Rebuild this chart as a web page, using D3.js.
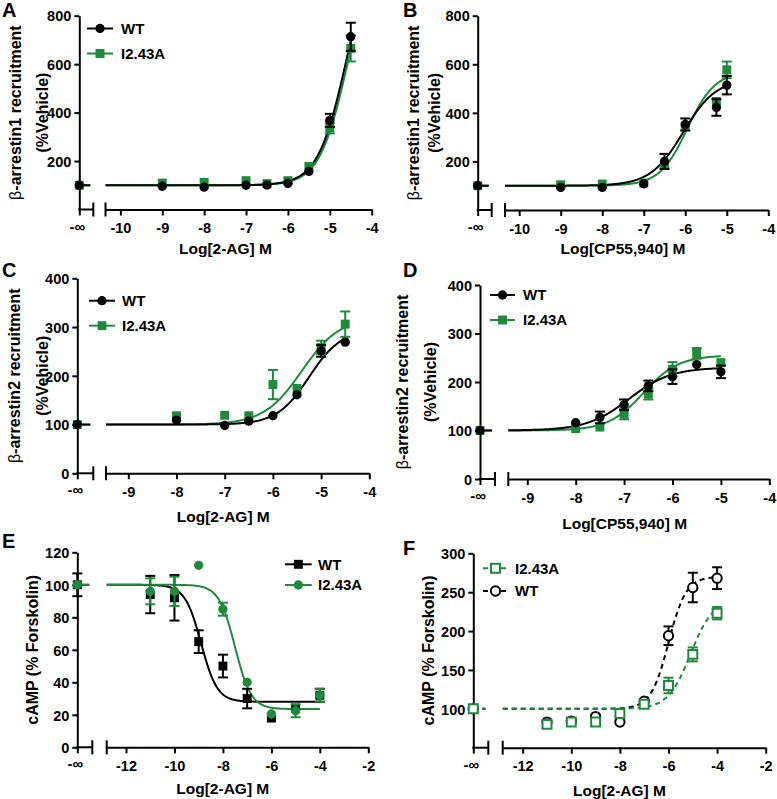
<!DOCTYPE html>
<html><head><meta charset="utf-8">
<script src="https://cdn.jsdelivr.net/npm/d3@7"></script>
<style>
body{margin:0;background:#fff}
text{font-family:"Liberation Sans",Arial,sans-serif;font-weight:bold;fill:#000}
</style>
</head><body>
<svg id="c" width="777" height="799" xmlns="http://www.w3.org/2000/svg"></svg>
<script>
const BLACK = "#000000", GREEN = "#1f8a3c";

// ---------- DATA ----------
// Panel A: beta-arrestin1, 2-AG
const A_conc = [-9, -8, -7, -6.5, -6, -5.5, -5, -4.5];
const A_WT = [96, 92, 100, 101, 108, 157, 368, 713];
const A_WT_sem = [3, 3, 3, 3, 3, 5, 27, 58];
const A_MUT = [109, 112, 119, 107, 119, 178, 336, 665];
const A_MUT_sem = [3, 3, 3, 3, 3, 5, 22, 54];
const A_fitWT = [100, 1140, -4.6, 1.27];
const A_fitMUT = [100, 1100, -4.58, 1.3];

// Panel B: beta-arrestin1, CP55,940
const B_conc = [-9, -8, -7, -6.5, -6, -5.25, -5];
const B_WT = [93, 93, 108, 200, 352, 422, 514];
const B_WT_sem = [3, 3, 3, 31, 25, 34, 38];
const B_MUT = [104, 107, 111, 186, 344, 447, 577];
const B_MUT_sem = [3, 3, 3, 20, 15, 19, 34];
const B_fitWT = [100, 540, -6.05, 1.1];
const B_fitMUT = [100, 570, -5.95, 1.3];

// Panel C: beta-arrestin2, 2-AG
const C_conc = [-8, -7, -6.5, -6, -5.5, -5, -4.5];
const C_WT = [109, 98, 107, 118, 161, 251, 269];
const C_WT_sem = [3, 3, 3, 10, 7, 12, 10];
const C_MUT = [118, 119, 118, 182, 174, 258, 306];
const C_MUT_sem = [3, 3, 3, 30, 10, 14, 26];
const C_fitWT = [100, 295, -5.25, 1.3];
const C_fitMUT = [100, 320, -5.4, 1.1];

// Panel D: beta-arrestin2, CP55,940
const D_conc = [-8, -7.5, -7, -6.5, -6, -5.5, -5];
const D_WT = [116, 127, 153, 192, 211, 236, 221];
const D_WT_sem = [10, 12, 11, 11, 15, 8, 13];
const D_MUT = [104, 107, 134, 175, 226, 259, 240];
const D_MUT_sem = [6, 5, 11, 11, 15, 11, 10];
const D_fitWT = [100, 230, -6.9, 1.0];
const D_fitMUT = [100, 255, -6.6, 1.2];

// Panel E: cAMP, 2-AG (inhibition)
const E_conc = [-11, -10, -9, -8, -7, -6, -5, -4];
const E_WT = [94, 92, 65, 50, 30, 18, 24, 32];
const E_WT_sem = [11.5, 14, 7, 7, 6, 1, 2, 4];
const E_MUT = [96, 96, 112, 85, 40, 20.5, 22.5, 32];
const E_MUT_sem = [8, 9, 3, 4, 3, 1, 4, 4];
const E_fitWT = [28, 100, -8.9, 1.3];
const E_fitMUT = [23.5, 100, -7.5, 1.3];

// Panel F: cAMP, 2-AG (stimulation)
const F_conc = [-11, -10, -9, -8, -7, -6, -5, -4];
const F_WT = [83, 84, 90, 83, 110, 194, 256, 268];
const F_WT_sem = [3, 3, 3, 5, 5, 12, 19, 14];
const F_MUT = [80, 83, 83, 94, 106, 130, 170, 223];
const F_MUT_sem = [3, 3, 3, 3, 5, 10, 9, 8];
const F_fitWT = [100, 270, -6.0, 1.2];
const F_fitMUT = [100, 240, -5.1, 0.95];

const vehicle = 100;
const seriesNames = ["WT", "I2.43A"];
const tickA = [-10, -9, -8, -7, -6, -5, -4];
const tickC = [-9, -8, -7, -6, -5, -4];
const tickE = [-12, -10, -8, -6, -4, -2];
const yTicksA = [200, 400, 600, 800];
const yTicksC = [0, 100, 200, 300, 400];
const yTicksE = [0, 20, 40, 60, 80, 100, 120];
const yTicksF = [100, 150, 200, 250, 300];

// ---------- DRAWING ----------
const svg = d3.select("#c");

function hill(p, x, dec) {
  const [b, t, c, h] = p;
  return dec ? b + (t - b) / (1 + Math.pow(10, (x - c) * h))
             : b + (t - b) / (1 + Math.pow(10, (c - x) * h));
}

function symbolPath(shape) {
  return d3.symbol().type(shape === "square" ? d3.symbolSquare : d3.symbolCircle)
    .size(shape === "square" ? 80 : 68)();
}

function drawMarker(g, cx, cy, s) {
  g.append("path").attr("d", symbolPath(s.shape))
    .attr("transform", `translate(${cx},${cy})`)
    .attr("fill", s.open ? "#fff" : s.color)
    .attr("stroke", s.color).attr("stroke-width", s.open ? 2 : 0);
}

function drawErr(g, cx, y, m, e, color) {
  const y1 = y(m + e), y2 = y(m - e);
  if (Math.abs(y2 - y1) / 2 < 5) return;
  g.append("line").attr("x1", cx).attr("x2", cx).attr("y1", y1).attr("y2", y2)
    .attr("stroke", color).attr("stroke-width", 2);
  [y1, y2].forEach(v => g.append("line").attr("x1", cx - 5).attr("x2", cx + 5)
    .attr("y1", v).attr("y2", v).attr("stroke", color).attr("stroke-width", 2));
}

function drawPanel(P) {
  const g = svg.append("g");
  const xr = d3.scaleLinear().domain(P.xRef).range(P.xRefPx);
  const x = d3.scaleLinear().domain([xr.invert(P.b2), P.xRef[1]]).range([P.b2, P.xRefPx[1]]);
  const y = d3.scaleLinear().domain(P.yDom).range(P.yPx);
  const yb = P.yPx[0];

  const ax = g.append("g").attr("transform", `translate(0,${yb})`)
    .call(d3.axisBottom(x).tickValues(P.xTicks).tickSize(6).tickSizeOuter(0).tickFormat(d => String(d)));
  ax.selectAll("text").attr("y", 23.5).attr("dy", 0);
  const ay = g.append("g").attr("transform", `translate(${P.ox},0)`)
    .call(d3.axisLeft(y).tickValues(P.yTicks).tickSize(5).tickPadding(3).tickSizeOuter(0).tickFormat(d => String(d)));
  ay.selectAll("text").attr("dy", "0.36em");
  [ax, ay].forEach(a => {
    a.attr("font-family", null).attr("font-size", 14.5);
    a.select(".domain").attr("stroke-width", 2);
    a.selectAll(".tick line").attr("stroke-width", 2);
  });
  // left x segment, -inf tick, break marks
  g.append("line").attr("x1", P.ox - 1).attr("x2", P.b1).attr("y1", yb).attr("y2", yb)
    .attr("stroke", "#000").attr("stroke-width", 2);
  g.append("line").attr("x1", P.ox + 0.5).attr("x2", P.ox + 0.5).attr("y1", yb).attr("y2", yb + 6)
    .attr("stroke", "#000").attr("stroke-width", 2);
  [P.b1, P.b2].forEach(b => g.append("line").attr("x1", b).attr("x2", b)
    .attr("y1", yb - 7).attr("y2", yb + 7).attr("stroke", "#000").attr("stroke-width", 2));
  g.append("text").attr("x", P.ox - 2).attr("y", yb + 22).attr("text-anchor", "middle")
    .style("font-size", "15px").text("-∞");

  // axis titles
  g.append("text").attr("x", (P.ox + P.xRefPx[1]) / 2).attr("y", P.titleY)
    .attr("text-anchor", "middle").style("font-size", "15.5px").text(P.xTitle);
  const yc = (P.yPx[0] + P.yPx[1]) / 2;
  P.yTitle.forEach(t => {
    const tx = g.append("text").attr("transform", `translate(${t.x},${yc}) rotate(-90)`)
      .attr("text-anchor", "middle").attr("dy", "0.36em").style("font-size", "16px");
    if (t.text.startsWith("β")) {
      tx.append("tspan").style("font-weight", "normal").text("β");
      tx.append("tspan").text(t.text.slice(1));
    } else tx.text(t.text);
  });
  // panel letter
  g.append("text").attr("x", P.letter[1]).attr("y", P.letter[2])
    .style("font-size", "20px").text(P.letter[0]);

  // curves
  const line = d3.line().x(d => x(d[0])).y(d => y(d[1]));
  P.series.forEach(s => {
    const lastX = s.conc[s.conc.length - 1];
    const xs = d3.range(x.domain()[0], lastX + 1e-6, 0.02).concat([lastX]);
    g.append("path").attr("d", line(xs.map(v => [v, hill(s.fit, v, s.dec)])))
      .attr("fill", "none").attr("stroke", s.color).attr("stroke-width", 2)
      .attr("stroke-dasharray", s.dash ? "5,4" : null);
    const lim = s.dec ? s.fit[1] : s.fit[0];
    g.append("line").attr("x1", P.ox).attr("x2", P.b1 - 3).attr("y1", y(lim)).attr("y2", y(lim))
      .attr("stroke", s.color).attr("stroke-width", 2).attr("stroke-dasharray", s.dash ? "5,4" : null);
  });
  // points
  P.series.forEach(s => {
    const pg = g.append("g");
    drawErr(pg, P.ox, y, s.vehicle, s.vehicleSem || 0, s.color);
    s.conc.forEach((c, i) => drawErr(pg, x(c), y, s.mean[i], s.sem[i], s.color));
    drawMarker(pg, P.ox, y(s.vehicle), s);
    s.conc.forEach((c, i) => drawMarker(pg, x(c), y(s.mean[i]), s));
  });
  // legend
  if (P.legend) {
    const L = P.legend;
    L.order.forEach((idx, k) => {
      const s = P.series[idx];
      const ly = L.rows[k];
      g.append("line").attr("x1", L.x1).attr("x2", L.x2).attr("y1", ly).attr("y2", ly)
        .attr("stroke", s.color).attr("stroke-width", 2).attr("stroke-dasharray", s.dash ? "5,4" : null);
      drawMarker(g, (L.x1 + L.x2) / 2, ly, s);
      g.append("text").attr("x", L.tx).attr("y", ly).attr("dy", "0.36em")
        .style("font-size", "15px").text(s.name);
    });
  }
}

function mk(name, conc, mean, sem, fit, color, shape, opts) {
  return Object.assign({ name, conc, mean, sem, fit, color, shape, vehicle }, opts || {});
}

drawPanel({
  ox: 79.3, b1: 93.3, b2: 105.5, xRef: [-10, -4], xRefPx: [120.4, 371.7],
  yDom: [0, 800], yPx: [209.5, 15.7], xTicks: tickA, yTicks: yTicksA,
  xTitle: "Log[2-AG] M", titleY: 254,
  yTitle: [{ text: "β-arrestin1 recruitment", x: 15 }, { text: "(%Vehicle)", x: 42 }],
  letter: ["A", 2, 17],
  series: [mk(seriesNames[1], A_conc, A_MUT, A_MUT_sem, A_fitMUT, GREEN, "square"),
           mk(seriesNames[0], A_conc, A_WT, A_WT_sem, A_fitWT, BLACK, "circle")],
  legend: { order: [1, 0], rows: [28.5, 53.5], x1: 87, x2: 113, tx: 121 }
});
drawPanel({
  ox: 477.7, b1: 491.7, b2: 505, xRef: [-10, -4], xRefPx: [519.2, 768.3],
  yDom: [0, 800], yPx: [210, 15.7], xTicks: tickA, yTicks: yTicksA,
  xTitle: "Log[CP55,940] M", titleY: 254,
  yTitle: [{ text: "β-arrestin1 recruitment", x: 413 }, { text: "(%Vehicle)", x: 434 }],
  letter: ["B", 403, 17],
  series: [mk(seriesNames[1], B_conc, B_MUT, B_MUT_sem, B_fitMUT, GREEN, "square"),
           mk(seriesNames[0], B_conc, B_WT, B_WT_sem, B_fitWT, BLACK, "circle")]
});
drawPanel({
  ox: 77.3, b1: 93.3, b2: 106, xRef: [-9, -4], xRefPx: [128.3, 369.3],
  yDom: [0, 400], yPx: [473.3, 278.3], xTicks: tickC, yTicks: yTicksC,
  xTitle: "Log[2-AG] M", titleY: 522,
  yTitle: [{ text: "β-arrestin2 recruitment", x: 14 }, { text: "(%Vehicle)", x: 42 }],
  letter: ["C", 2, 277],
  series: [mk(seriesNames[1], C_conc, C_MUT, C_MUT_sem, C_fitMUT, GREEN, "square"),
           mk(seriesNames[0], C_conc, C_WT, C_WT_sem, C_fitWT, BLACK, "circle")],
  legend: { order: [1, 0], rows: [300.7, 325.7], x1: 89, x2: 115, tx: 122 }
});
drawPanel({
  ox: 480, b1: 495, b2: 508.3, xRef: [-9, -4], xRefPx: [527.3, 769.3],
  yDom: [0, 400], yPx: [479, 285], xTicks: tickC, yTicks: yTicksC,
  xTitle: "Log[CP55,940] M", titleY: 529,
  yTitle: [{ text: "β-arrestin2 recruitment", x: 402.5 }, { text: "(%Vehicle)", x: 430 }],
  letter: ["D", 403, 277],
  series: [mk(seriesNames[1], D_conc, D_MUT, D_MUT_sem, D_fitMUT, GREEN, "square"),
           mk(seriesNames[0], D_conc, D_WT, D_WT_sem, D_fitWT, BLACK, "circle")],
  legend: { order: [1, 0], rows: [295, 320], x1: 490, x2: 515, tx: 523 }
});
drawPanel({
  ox: 77.3, b1: 92.3, b2: 106.7, xRef: [-12, -2], xRefPx: [126, 368.3],
  yDom: [0, 120], yPx: [747.3, 552.3], xTicks: tickE, yTicks: yTicksE,
  xTitle: "Log[2-AG] M", titleY: 794,
  yTitle: [{ text: "cAMP (% Forskolin)", x: 32.5 }],
  letter: ["E", 2, 548],
  series: [mk(seriesNames[0], E_conc, E_WT, E_WT_sem, E_fitWT, BLACK, "square", { dec: true, vehicleSem: 7 }),
           mk(seriesNames[1], E_conc, E_MUT, E_MUT_sem, E_fitMUT, GREEN, "circle", { dec: true })],
  legend: { order: [0, 1], rows: [564.3, 585], x1: 285, x2: 311.7, tx: 318 }
});
drawPanel({
  ox: 473.3, b1: 488.3, b2: 502.7, xRef: [-12, -2], xRefPx: [522.7, 765.7],
  yDom: [50, 300], yPx: [747.7, 553.3], xTicks: tickE, yTicks: yTicksF,
  xTitle: "Log[2-AG] M", titleY: 796,
  yTitle: [{ text: "cAMP (% Forskolin)", x: 428.5 }],
  letter: ["F", 403, 555],
  series: [mk(seriesNames[0], F_conc, F_WT, F_WT_sem, F_fitWT, BLACK, "circle", { open: true, dash: true }),
           mk(seriesNames[1], F_conc, F_MUT, F_MUT_sem, F_fitMUT, GREEN, "square", { open: true, dash: true })],
  legend: { order: [1, 0], rows: [568.3, 591], x1: 483, x2: 508, tx: 515 }
});
</script>
</body></html>
